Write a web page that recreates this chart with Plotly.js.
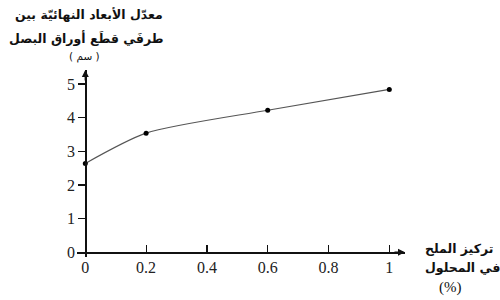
<!DOCTYPE html>
<html><head><meta charset="utf-8">
<script src="https://cdn.plot.ly/plotly-3.0.1.min.js"></script>
<style>html,body{margin:0;padding:0;background:#fff}</style>
</head><body>
<div id="chart" style="width:500px;height:300px"></div>
<script>
// Data
var saltConcentration = [0, 0.2, 0.6, 1];
var meanFinalDistance = [2.64, 3.54, 4.22, 4.84];
var xTickValues = [0, 0.2, 0.4, 0.6, 0.8, 1];
var xTickLabels = ['0', '0.2', '0.4', '0.6', '0.8', '1'];
var yTickValues = [0, 1, 2, 3, 4, 5];
var yTickLabels = ['0', '1', '2', '3', '4', '5'];
var yTitleLines = ['معدّل الأبعاد النهائيّة بين', 'طرفَي قطَع أوراق البصل', '( سم )'];
var xTitleLines = ['تركيز الملح', 'في المحلول', '(%)'];

var L = 77, R = 95, T = 70, B = 43;
var W = 500 - L - R, H = 300 - T - B;
var xRange = [-0.0273, 1.0516];
var yRange = [-0.14, 5.416];
function px(xp){ return (xp - L) / W; }
function py(yp){ return (300 - B - yp) / H; }
var xZeroPos = (0 - xRange[0]) / (xRange[1] - xRange[0]);
var yZeroPos = (0 - yRange[0]) / (yRange[1] - yRange[0]);

var arFont = {family: 'DejaVu Sans', size: 12.5, color: '#111', weight: 'bold'};

var annotations = [
  {xref:'paper', yref:'paper', x:px(89), y:py(15), text:yTitleLines[0], showarrow:false, xanchor:'center', yanchor:'middle', font:arFont},
  {xref:'paper', yref:'paper', x:px(86), y:py(38), text:yTitleLines[1], showarrow:false, xanchor:'center', yanchor:'middle', font:arFont},
  {xref:'paper', yref:'paper', x:px(84), y:py(57), text:yTitleLines[2], showarrow:false, xanchor:'center', yanchor:'middle', font:{family:'DejaVu Sans', size:10.5, color:'#111'}},
  {xref:'paper', yref:'paper', x:px(459), y:py(248), text:xTitleLines[0], showarrow:false, xanchor:'center', yanchor:'middle', font:arFont},
  {xref:'paper', yref:'paper', x:px(462), y:py(267), text:xTitleLines[1], showarrow:false, xanchor:'center', yanchor:'middle', font:arFont},
  {xref:'paper', yref:'paper', x:px(450), y:py(287), text:xTitleLines[2], showarrow:false, xanchor:'center', yanchor:'middle', font:{family:'Liberation Serif', size:15, color:'#111'}},
  // axis arrows
  {xref:'x', yref:'paper', x:0, y:1, ax:0, ay:12, text:'', showarrow:true, arrowhead:2, arrowsize:1, arrowwidth:1.4, arrowcolor:'#111', standoff:0},
  {xref:'paper', yref:'y', x:1, y:0, ax:-12, ay:0, text:'', showarrow:true, arrowhead:2, arrowsize:1, arrowwidth:1.4, arrowcolor:'#111', standoff:0}
];

var trace = {
  x: saltConcentration, y: meanFinalDistance,
  type:'scatter', mode:'lines+markers',
  line:{shape:'spline', smoothing:0.7, color:'#555', width:1.1},
  marker:{color:'#000', size:5},
  hoverinfo:'skip', cliponaxis:false
};

var tickFont = {family:'Liberation Serif', size:16, color:'#222'};
var layout = {
  width:500, height:300,
  margin:{l:L, r:R, t:T, b:B, pad:0},
  paper_bgcolor:'#fff', plot_bgcolor:'#fff',
  showlegend:false,
  xaxis:{range:xRange, tickvals:xTickValues, ticktext:xTickLabels, showgrid:false, zeroline:false,
         showline:true, linecolor:'#111', linewidth:1.3, anchor:'free', position:yZeroPos,
         ticks:'inside', ticklen:7, tickwidth:1.2, tickcolor:'#111', tickfont:tickFont, fixedrange:true},
  yaxis:{range:yRange, tickvals:yTickValues, ticktext:yTickLabels, showgrid:false, zeroline:false,
         showline:true, linecolor:'#111', linewidth:1.3, anchor:'free', position:xZeroPos,
         ticks:'outside', ticklen:7, tickwidth:1.2, tickcolor:'#111', tickfont:tickFont, fixedrange:true},
  annotations: annotations
};
Plotly.newPlot('chart', [trace], layout, {staticPlot:true, displayModeBar:false});
</script>
</body></html>
